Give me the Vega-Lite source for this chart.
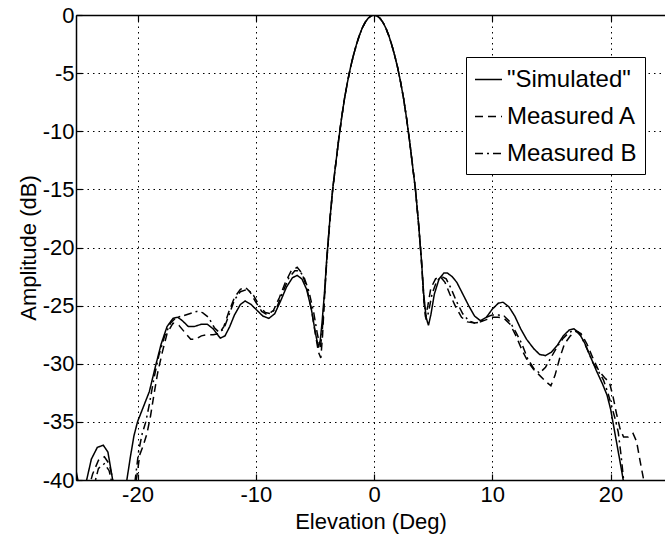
{
"$schema": "https://vega.github.io/schema/vega-lite/v6.json",
"width": 589, "height": 465,
"autosize": {"type": "none"},
"padding": {"left": 76, "top": 15, "right": 0, "bottom": 60},
"background": "white",
"config": {
  "view": {"stroke": null},
  "font": "Liberation Sans",
  "axis": {
    "domainColor": "black", "domainWidth": 1.5,
    "tickColor": "black", "tickSize": -6, "tickWidth": 1.2,
    "labelColor": "black", "labelFontSize": 22, "labelFont": "Liberation Sans",
    "titleColor": "black", "titleFontSize": 22, "titleFont": "Liberation Sans", "titleFontWeight": "normal",
    "gridColor": "black", "gridDash": [1.5, 4], "gridWidth": 1, "gridOpacity": 1
  }
},
"datasets": {
  "curves": [
{"x":-25.3,"y":-38.7,"s":"\"Simulated\""},{"x":-25.0,"y":-40.2,"s":"\"Simulated\""},{"x":-24.7,"y":-42,"s":"\"Simulated\""},{"x":-24.3,"y":-40.0,"s":"\"Simulated\""},{"x":-23.9,"y":-38.2,"s":"\"Simulated\""},{"x":-23.4,"y":-37.2,"s":"\"Simulated\""},{"x":-22.9,"y":-37.0,"s":"\"Simulated\""},{"x":-22.5,"y":-37.6,"s":"\"Simulated\""},{"x":-22.1,"y":-40.0,"s":"\"Simulated\""},{"x":-21.5,"y":-44,"s":"\"Simulated\""},{"x":-20.9,"y":-40.0,"s":"\"Simulated\""},{"x":-20.6,"y":-38.0,"s":"\"Simulated\""},{"x":-20.3,"y":-36.2,"s":"\"Simulated\""},{"x":-20.0,"y":-35.0,"s":"\"Simulated\""},{"x":-19.5,"y":-33.7,"s":"\"Simulated\""},{"x":-19.0,"y":-32.4,"s":"\"Simulated\""},{"x":-18.5,"y":-30.3,"s":"\"Simulated\""},{"x":-18.0,"y":-28.3,"s":"\"Simulated\""},{"x":-17.5,"y":-26.8,"s":"\"Simulated\""},{"x":-17.0,"y":-26.1,"s":"\"Simulated\""},{"x":-16.6,"y":-26.0,"s":"\"Simulated\""},{"x":-16.2,"y":-26.3,"s":"\"Simulated\""},{"x":-15.7,"y":-26.8,"s":"\"Simulated\""},{"x":-15.2,"y":-26.8,"s":"\"Simulated\""},{"x":-14.6,"y":-26.6,"s":"\"Simulated\""},{"x":-14.1,"y":-26.6,"s":"\"Simulated\""},{"x":-13.6,"y":-27.0,"s":"\"Simulated\""},{"x":-13.0,"y":-27.8,"s":"\"Simulated\""},{"x":-12.6,"y":-27.6,"s":"\"Simulated\""},{"x":-12.2,"y":-26.8,"s":"\"Simulated\""},{"x":-11.8,"y":-25.8,"s":"\"Simulated\""},{"x":-11.3,"y":-24.9,"s":"\"Simulated\""},{"x":-10.9,"y":-24.6,"s":"\"Simulated\""},{"x":-10.4,"y":-24.9,"s":"\"Simulated\""},{"x":-9.9,"y":-25.4,"s":"\"Simulated\""},{"x":-9.4,"y":-25.9,"s":"\"Simulated\""},{"x":-8.9,"y":-26.1,"s":"\"Simulated\""},{"x":-8.4,"y":-25.7,"s":"\"Simulated\""},{"x":-7.9,"y":-24.6,"s":"\"Simulated\""},{"x":-7.4,"y":-23.4,"s":"\"Simulated\""},{"x":-6.9,"y":-22.6,"s":"\"Simulated\""},{"x":-6.5,"y":-22.4,"s":"\"Simulated\""},{"x":-6.1,"y":-22.7,"s":"\"Simulated\""},{"x":-5.7,"y":-23.6,"s":"\"Simulated\""},{"x":-5.3,"y":-25.3,"s":"\"Simulated\""},{"x":-4.95,"y":-27.4,"s":"\"Simulated\""},{"x":-4.7,"y":-28.6,"s":"\"Simulated\""},{"x":-4.55,"y":-28.0,"s":"\"Simulated\""},{"x":-4.4,"y":-26.5,"s":"\"Simulated\""},{"x":-4.2,"y":-24.0,"s":"\"Simulated\""},{"x":-4.0,"y":-21.0,"s":"\"Simulated\""},
{"x":-3.75,"y":-17.8,"s":"\"Simulated\""},{"x":-3.5,"y":-15.0,"s":"\"Simulated\""},{"x":-3.25,"y":-12.9,"s":"\"Simulated\""},{"x":-3.0,"y":-10.8,"s":"\"Simulated\""},{"x":-2.75,"y":-8.9,"s":"\"Simulated\""},{"x":-2.5,"y":-7.2,"s":"\"Simulated\""},{"x":-2.25,"y":-5.8,"s":"\"Simulated\""},{"x":-2.0,"y":-4.55,"s":"\"Simulated\""},{"x":-1.75,"y":-3.5,"s":"\"Simulated\""},{"x":-1.5,"y":-2.58,"s":"\"Simulated\""},{"x":-1.25,"y":-1.78,"s":"\"Simulated\""},{"x":-1.0,"y":-1.13,"s":"\"Simulated\""},{"x":-0.75,"y":-0.63,"s":"\"Simulated\""},{"x":-0.5,"y":-0.28,"s":"\"Simulated\""},{"x":-0.25,"y":-0.07,"s":"\"Simulated\""},{"x":0,"y":0,"s":"\"Simulated\""},{"x":0.25,"y":-0.07,"s":"\"Simulated\""},{"x":0.5,"y":-0.28,"s":"\"Simulated\""},{"x":0.75,"y":-0.63,"s":"\"Simulated\""},{"x":1.0,"y":-1.13,"s":"\"Simulated\""},{"x":1.25,"y":-1.78,"s":"\"Simulated\""},{"x":1.5,"y":-2.58,"s":"\"Simulated\""},{"x":1.75,"y":-3.5,"s":"\"Simulated\""},{"x":2.0,"y":-4.55,"s":"\"Simulated\""},{"x":2.25,"y":-5.8,"s":"\"Simulated\""},{"x":2.5,"y":-7.2,"s":"\"Simulated\""},{"x":2.75,"y":-8.9,"s":"\"Simulated\""},{"x":3.0,"y":-10.8,"s":"\"Simulated\""},{"x":3.25,"y":-12.9,"s":"\"Simulated\""},{"x":3.5,"y":-15.0,"s":"\"Simulated\""},{"x":3.75,"y":-17.8,"s":"\"Simulated\""},
{"x":4.0,"y":-21.0,"s":"\"Simulated\""},{"x":4.2,"y":-24.0,"s":"\"Simulated\""},{"x":4.4,"y":-26.0,"s":"\"Simulated\""},{"x":4.6,"y":-26.7,"s":"\"Simulated\""},{"x":4.8,"y":-25.8,"s":"\"Simulated\""},{"x":5.1,"y":-24.0,"s":"\"Simulated\""},{"x":5.5,"y":-22.7,"s":"\"Simulated\""},{"x":5.9,"y":-22.2,"s":"\"Simulated\""},{"x":6.2,"y":-22.2,"s":"\"Simulated\""},{"x":6.6,"y":-22.5,"s":"\"Simulated\""},{"x":7.0,"y":-23.0,"s":"\"Simulated\""},{"x":7.5,"y":-24.0,"s":"\"Simulated\""},{"x":8.0,"y":-25.0,"s":"\"Simulated\""},{"x":8.5,"y":-25.9,"s":"\"Simulated\""},{"x":9.0,"y":-26.3,"s":"\"Simulated\""},{"x":9.5,"y":-26.0,"s":"\"Simulated\""},{"x":10.0,"y":-25.3,"s":"\"Simulated\""},{"x":10.5,"y":-24.8,"s":"\"Simulated\""},{"x":10.9,"y":-24.7,"s":"\"Simulated\""},{"x":11.4,"y":-25.1,"s":"\"Simulated\""},{"x":11.9,"y":-25.9,"s":"\"Simulated\""},{"x":12.4,"y":-27.0,"s":"\"Simulated\""},{"x":12.9,"y":-27.9,"s":"\"Simulated\""},{"x":13.5,"y":-28.7,"s":"\"Simulated\""},{"x":14.0,"y":-29.2,"s":"\"Simulated\""},{"x":14.5,"y":-29.3,"s":"\"Simulated\""},{"x":15.0,"y":-29.0,"s":"\"Simulated\""},{"x":15.5,"y":-28.4,"s":"\"Simulated\""},{"x":16.0,"y":-27.6,"s":"\"Simulated\""},{"x":16.5,"y":-27.1,"s":"\"Simulated\""},{"x":16.9,"y":-27.0,"s":"\"Simulated\""},{"x":17.3,"y":-27.3,"s":"\"Simulated\""},{"x":17.8,"y":-28.2,"s":"\"Simulated\""},{"x":18.3,"y":-29.4,"s":"\"Simulated\""},{"x":18.8,"y":-30.6,"s":"\"Simulated\""},{"x":19.3,"y":-31.7,"s":"\"Simulated\""},{"x":19.7,"y":-32.7,"s":"\"Simulated\""},{"x":20.0,"y":-33.9,"s":"\"Simulated\""},{"x":20.3,"y":-35.6,"s":"\"Simulated\""},{"x":20.6,"y":-37.3,"s":"\"Simulated\""},{"x":20.9,"y":-39.0,"s":"\"Simulated\""},{"x":21.1,"y":-40.2,"s":"\"Simulated\""},{"x":21.4,"y":-43,"s":"\"Simulated\""},

{"x":-24.2,"y":-41,"s":"Measured A"},{"x":-23.8,"y":-39.5,"s":"Measured A"},{"x":-23.3,"y":-38.3,"s":"Measured A"},{"x":-22.8,"y":-38.0,"s":"Measured A"},{"x":-22.4,"y":-38.6,"s":"Measured A"},{"x":-22.0,"y":-40.3,"s":"Measured A"},{"x":-21.4,"y":-44,"s":"Measured A"},{"x":-20.5,"y":-44,"s":"Measured A"},{"x":-20.1,"y":-40,"s":"Measured A"},{"x":-19.8,"y":-37.8,"s":"Measured A"},{"x":-19.5,"y":-37.0,"s":"Measured A"},{"x":-19.2,"y":-36.0,"s":"Measured A"},{"x":-18.9,"y":-34.5,"s":"Measured A"},{"x":-18.6,"y":-32.6,"s":"Measured A"},{"x":-18.3,"y":-30.8,"s":"Measured A"},{"x":-17.9,"y":-29.0,"s":"Measured A"},{"x":-17.5,"y":-27.4,"s":"Measured A"},{"x":-17.0,"y":-26.5,"s":"Measured A"},{"x":-16.5,"y":-26.7,"s":"Measured A"},{"x":-16.0,"y":-27.3,"s":"Measured A"},{"x":-15.5,"y":-27.9,"s":"Measured A"},{"x":-15.1,"y":-27.9,"s":"Measured A"},{"x":-14.6,"y":-27.6,"s":"Measured A"},{"x":-14.1,"y":-27.5,"s":"Measured A"},{"x":-13.6,"y":-27.5,"s":"Measured A"},{"x":-13.1,"y":-27.4,"s":"Measured A"},{"x":-12.7,"y":-26.8,"s":"Measured A"},{"x":-12.3,"y":-25.6,"s":"Measured A"},{"x":-11.8,"y":-24.3,"s":"Measured A"},{"x":-11.3,"y":-23.6,"s":"Measured A"},{"x":-10.9,"y":-23.4,"s":"Measured A"},{"x":-10.5,"y":-23.8,"s":"Measured A"},{"x":-10.0,"y":-24.7,"s":"Measured A"},{"x":-9.5,"y":-25.5,"s":"Measured A"},{"x":-9.0,"y":-25.8,"s":"Measured A"},{"x":-8.5,"y":-25.4,"s":"Measured A"},{"x":-8.0,"y":-24.3,"s":"Measured A"},{"x":-7.5,"y":-23.0,"s":"Measured A"},{"x":-7.0,"y":-22.0,"s":"Measured A"},{"x":-6.5,"y":-21.7,"s":"Measured A"},{"x":-6.1,"y":-22.2,"s":"Measured A"},{"x":-5.7,"y":-23.4,"s":"Measured A"},{"x":-5.3,"y":-25.3,"s":"Measured A"},{"x":-5.0,"y":-27.2,"s":"Measured A"},{"x":-4.7,"y":-29.0,"s":"Measured A"},{"x":-4.5,"y":-29.5,"s":"Measured A"},{"x":-4.35,"y":-27.5,"s":"Measured A"},{"x":-4.2,"y":-24.5,"s":"Measured A"},{"x":-4.0,"y":-21.2,"s":"Measured A"},
{"x":-3.75,"y":-17.9,"s":"Measured A"},{"x":-3.5,"y":-15.1,"s":"Measured A"},{"x":-3.25,"y":-12.9,"s":"Measured A"},{"x":-3.0,"y":-10.8,"s":"Measured A"},{"x":-2.75,"y":-8.9,"s":"Measured A"},{"x":-2.5,"y":-7.2,"s":"Measured A"},{"x":-2.25,"y":-5.8,"s":"Measured A"},{"x":-2.0,"y":-4.55,"s":"Measured A"},{"x":-1.75,"y":-3.5,"s":"Measured A"},{"x":-1.5,"y":-2.58,"s":"Measured A"},{"x":-1.25,"y":-1.78,"s":"Measured A"},{"x":-1.0,"y":-1.13,"s":"Measured A"},{"x":-0.75,"y":-0.63,"s":"Measured A"},{"x":-0.5,"y":-0.28,"s":"Measured A"},{"x":-0.25,"y":-0.07,"s":"Measured A"},{"x":0,"y":0,"s":"Measured A"},{"x":0.25,"y":-0.07,"s":"Measured A"},{"x":0.5,"y":-0.28,"s":"Measured A"},{"x":0.75,"y":-0.63,"s":"Measured A"},{"x":1.0,"y":-1.13,"s":"Measured A"},{"x":1.25,"y":-1.78,"s":"Measured A"},{"x":1.5,"y":-2.58,"s":"Measured A"},{"x":1.75,"y":-3.5,"s":"Measured A"},{"x":2.0,"y":-4.55,"s":"Measured A"},{"x":2.25,"y":-5.8,"s":"Measured A"},{"x":2.5,"y":-7.2,"s":"Measured A"},{"x":2.75,"y":-8.9,"s":"Measured A"},{"x":3.0,"y":-10.8,"s":"Measured A"},{"x":3.25,"y":-12.9,"s":"Measured A"},{"x":3.5,"y":-15.0,"s":"Measured A"},{"x":3.75,"y":-17.8,"s":"Measured A"},
{"x":4.0,"y":-21.0,"s":"Measured A"},{"x":4.2,"y":-24.5,"s":"Measured A"},{"x":4.35,"y":-26.0,"s":"Measured A"},{"x":4.55,"y":-25.0,"s":"Measured A"},{"x":4.8,"y":-23.5,"s":"Measured A"},{"x":5.2,"y":-22.7,"s":"Measured A"},{"x":5.6,"y":-22.5,"s":"Measured A"},{"x":6.0,"y":-23.0,"s":"Measured A"},{"x":6.4,"y":-24.0,"s":"Measured A"},{"x":6.9,"y":-25.1,"s":"Measured A"},{"x":7.4,"y":-26.0,"s":"Measured A"},{"x":7.9,"y":-26.4,"s":"Measured A"},{"x":8.5,"y":-26.5,"s":"Measured A"},{"x":9.0,"y":-26.4,"s":"Measured A"},{"x":9.5,"y":-26.2,"s":"Measured A"},{"x":10.0,"y":-26.0,"s":"Measured A"},{"x":10.5,"y":-26.0,"s":"Measured A"},{"x":11.0,"y":-26.1,"s":"Measured A"},{"x":11.5,"y":-26.6,"s":"Measured A"},{"x":12.0,"y":-27.6,"s":"Measured A"},{"x":12.5,"y":-28.8,"s":"Measured A"},{"x":13.0,"y":-29.8,"s":"Measured A"},{"x":13.5,"y":-30.5,"s":"Measured A"},{"x":14.0,"y":-31.0,"s":"Measured A"},{"x":14.5,"y":-31.5,"s":"Measured A"},{"x":14.95,"y":-31.9,"s":"Measured A"},{"x":15.3,"y":-31.0,"s":"Measured A"},{"x":15.7,"y":-29.5,"s":"Measured A"},{"x":16.1,"y":-28.3,"s":"Measured A"},{"x":16.6,"y":-27.6,"s":"Measured A"},{"x":17.1,"y":-27.2,"s":"Measured A"},{"x":17.5,"y":-27.4,"s":"Measured A"},{"x":18.0,"y":-28.3,"s":"Measured A"},{"x":18.5,"y":-29.5,"s":"Measured A"},{"x":19.0,"y":-30.6,"s":"Measured A"},{"x":19.5,"y":-31.2,"s":"Measured A"},{"x":19.9,"y":-31.6,"s":"Measured A"},{"x":20.2,"y":-32.8,"s":"Measured A"},{"x":20.5,"y":-34.3,"s":"Measured A"},{"x":20.8,"y":-35.6,"s":"Measured A"},{"x":21.1,"y":-36.3,"s":"Measured A"},{"x":21.5,"y":-36.3,"s":"Measured A"},{"x":21.9,"y":-36.0,"s":"Measured A"},{"x":22.2,"y":-36.7,"s":"Measured A"},{"x":22.5,"y":-38.4,"s":"Measured A"},{"x":22.8,"y":-40.0,"s":"Measured A"},{"x":23.1,"y":-42,"s":"Measured A"},

{"x":-23.8,"y":-41,"s":"Measured B"},{"x":-23.3,"y":-39.0,"s":"Measured B"},{"x":-22.8,"y":-38.6,"s":"Measured B"},{"x":-22.4,"y":-39.2,"s":"Measured B"},{"x":-22.0,"y":-41,"s":"Measured B"},{"x":-21.4,"y":-44,"s":"Measured B"},{"x":-20.4,"y":-42,"s":"Measured B"},{"x":-20.2,"y":-40,"s":"Measured B"},{"x":-19.9,"y":-37.5,"s":"Measured B"},{"x":-19.6,"y":-36.0,"s":"Measured B"},{"x":-19.3,"y":-35.0,"s":"Measured B"},{"x":-19.0,"y":-33.5,"s":"Measured B"},{"x":-18.6,"y":-31.2,"s":"Measured B"},{"x":-18.2,"y":-29.3,"s":"Measured B"},{"x":-17.7,"y":-27.6,"s":"Measured B"},{"x":-17.2,"y":-26.5,"s":"Measured B"},{"x":-16.7,"y":-26.0,"s":"Measured B"},{"x":-16.2,"y":-25.9,"s":"Measured B"},{"x":-15.6,"y":-25.7,"s":"Measured B"},{"x":-15.0,"y":-25.5,"s":"Measured B"},{"x":-14.5,"y":-25.6,"s":"Measured B"},{"x":-14.0,"y":-26.0,"s":"Measured B"},{"x":-13.5,"y":-26.9,"s":"Measured B"},{"x":-13.1,"y":-27.3,"s":"Measured B"},{"x":-12.7,"y":-27.0,"s":"Measured B"},{"x":-12.3,"y":-25.9,"s":"Measured B"},{"x":-11.8,"y":-24.5,"s":"Measured B"},{"x":-11.3,"y":-23.8,"s":"Measured B"},{"x":-10.7,"y":-23.6,"s":"Measured B"},{"x":-10.2,"y":-24.1,"s":"Measured B"},{"x":-9.7,"y":-25.0,"s":"Measured B"},{"x":-9.2,"y":-25.6,"s":"Measured B"},{"x":-8.7,"y":-25.7,"s":"Measured B"},{"x":-8.2,"y":-25.1,"s":"Measured B"},{"x":-7.7,"y":-23.8,"s":"Measured B"},{"x":-7.2,"y":-22.6,"s":"Measured B"},{"x":-6.7,"y":-22.0,"s":"Measured B"},{"x":-6.3,"y":-22.0,"s":"Measured B"},{"x":-5.9,"y":-22.6,"s":"Measured B"},{"x":-5.5,"y":-23.8,"s":"Measured B"},{"x":-5.1,"y":-25.6,"s":"Measured B"},{"x":-4.8,"y":-27.4,"s":"Measured B"},{"x":-4.55,"y":-28.6,"s":"Measured B"},{"x":-4.4,"y":-27.5,"s":"Measured B"},{"x":-4.2,"y":-24.3,"s":"Measured B"},{"x":-4.0,"y":-21.1,"s":"Measured B"},
{"x":-3.75,"y":-17.8,"s":"Measured B"},{"x":-3.5,"y":-15.0,"s":"Measured B"},{"x":-3.25,"y":-12.9,"s":"Measured B"},{"x":-3.0,"y":-10.8,"s":"Measured B"},{"x":-2.75,"y":-8.9,"s":"Measured B"},{"x":-2.5,"y":-7.2,"s":"Measured B"},{"x":-2.25,"y":-5.8,"s":"Measured B"},{"x":-2.0,"y":-4.55,"s":"Measured B"},{"x":-1.75,"y":-3.5,"s":"Measured B"},{"x":-1.5,"y":-2.58,"s":"Measured B"},{"x":-1.25,"y":-1.78,"s":"Measured B"},{"x":-1.0,"y":-1.13,"s":"Measured B"},{"x":-0.75,"y":-0.63,"s":"Measured B"},{"x":-0.5,"y":-0.28,"s":"Measured B"},{"x":-0.25,"y":-0.07,"s":"Measured B"},{"x":0,"y":0,"s":"Measured B"},{"x":0.25,"y":-0.07,"s":"Measured B"},{"x":0.5,"y":-0.28,"s":"Measured B"},{"x":0.75,"y":-0.63,"s":"Measured B"},{"x":1.0,"y":-1.13,"s":"Measured B"},{"x":1.25,"y":-1.78,"s":"Measured B"},{"x":1.5,"y":-2.58,"s":"Measured B"},{"x":1.75,"y":-3.5,"s":"Measured B"},{"x":2.0,"y":-4.55,"s":"Measured B"},{"x":2.25,"y":-5.8,"s":"Measured B"},{"x":2.5,"y":-7.2,"s":"Measured B"},{"x":2.75,"y":-8.9,"s":"Measured B"},{"x":3.0,"y":-10.8,"s":"Measured B"},{"x":3.25,"y":-12.9,"s":"Measured B"},{"x":3.5,"y":-15.0,"s":"Measured B"},{"x":3.75,"y":-17.8,"s":"Measured B"},
{"x":4.0,"y":-21.0,"s":"Measured B"},{"x":4.2,"y":-24.2,"s":"Measured B"},{"x":4.4,"y":-26.2,"s":"Measured B"},{"x":4.6,"y":-25.6,"s":"Measured B"},{"x":4.9,"y":-24.0,"s":"Measured B"},{"x":5.3,"y":-22.9,"s":"Measured B"},{"x":5.7,"y":-22.5,"s":"Measured B"},{"x":6.1,"y":-22.7,"s":"Measured B"},{"x":6.5,"y":-23.5,"s":"Measured B"},{"x":7.0,"y":-24.7,"s":"Measured B"},{"x":7.5,"y":-25.7,"s":"Measured B"},{"x":8.0,"y":-26.3,"s":"Measured B"},{"x":8.5,"y":-26.5,"s":"Measured B"},{"x":9.0,"y":-26.4,"s":"Measured B"},{"x":9.5,"y":-26.0,"s":"Measured B"},{"x":10.0,"y":-25.8,"s":"Measured B"},{"x":10.5,"y":-25.8,"s":"Measured B"},{"x":11.0,"y":-25.9,"s":"Measured B"},{"x":11.5,"y":-26.4,"s":"Measured B"},{"x":12.0,"y":-27.3,"s":"Measured B"},{"x":12.5,"y":-28.3,"s":"Measured B"},{"x":13.0,"y":-29.6,"s":"Measured B"},{"x":13.5,"y":-30.4,"s":"Measured B"},{"x":14.0,"y":-30.8,"s":"Measured B"},{"x":14.5,"y":-30.3,"s":"Measured B"},{"x":15.0,"y":-29.4,"s":"Measured B"},{"x":15.5,"y":-28.5,"s":"Measured B"},{"x":16.0,"y":-27.8,"s":"Measured B"},{"x":16.5,"y":-27.3,"s":"Measured B"},{"x":17.0,"y":-27.1,"s":"Measured B"},{"x":17.5,"y":-27.6,"s":"Measured B"},{"x":18.0,"y":-28.7,"s":"Measured B"},{"x":18.5,"y":-29.9,"s":"Measured B"},{"x":19.0,"y":-30.7,"s":"Measured B"},{"x":19.4,"y":-31.4,"s":"Measured B"},{"x":19.8,"y":-32.6,"s":"Measured B"},{"x":20.1,"y":-33.7,"s":"Measured B"},{"x":20.4,"y":-34.8,"s":"Measured B"},{"x":20.65,"y":-35.9,"s":"Measured B"},{"x":20.9,"y":-38.0,"s":"Measured B"},{"x":21.1,"y":-40.0,"s":"Measured B"},{"x":21.4,"y":-43,"s":"Measured B"}
  ],
  "topaxis": [{"x": 0}]
},
"layer": [
  {
    "data": {"name": "curves"},
    "mark": {"type": "line", "clip": true, "color": "black", "strokeWidth": 1.5},
    "encoding": {
      "x": {"field": "x", "type": "quantitative",
            "scale": {"domain": [-25.2, 24.6], "nice": false, "zero": false},
            "axis": {"values": [-20, -10, 0, 10, 20], "title": "Elevation (Deg)", "grid": true,
                     "labelExpr": "toString(datum.value)",
                     "labelPadding": 10, "titlePadding": 6, "labelFlush": false}},
      "y": {"field": "y", "type": "quantitative",
            "scale": {"domain": [-40, 0], "nice": false, "zero": false},
            "axis": {"values": [0, -5, -10, -15, -20, -25, -30, -35, -40], "title": "Amplitude (dB)", "grid": true,
                     "labelExpr": "toString(datum.value)",
                     "labelPadding": 8, "titlePadding": 2, "labelFlush": false}},
      "strokeDash": {"field": "s", "type": "nominal",
            "scale": {"domain": ["\"Simulated\"", "Measured A", "Measured B"], "range": [[1, 0], [8, 5], [8, 4, 2, 4]]},
            "legend": {"orient": "none", "legendX": 390, "legendY": 42, "title": null,
                       "strokeColor": "black", "fillColor": "white", "padding": 8,
                       "symbolType": "stroke", "symbolSize": 729, "symbolStrokeWidth": 1.5, "symbolStrokeColor": "black",
                       "labelFontSize": 24, "labelFont": "Liberation Sans", "labelColor": "black",
                       "rowPadding": 10, "labelOffset": 4}}
    }
  },
  {
    "data": {"name": "topaxis"},
    "mark": {"type": "rule", "opacity": 0},
    "encoding": {
      "x": {"field": "x", "type": "quantitative",
            "axis": {"orient": "top", "values": [-20, -10, 0, 10, 20], "labels": false, "title": null, "grid": false}}
    }
  }
],
"resolve": {"axis": {"x": "independent"}}
}
